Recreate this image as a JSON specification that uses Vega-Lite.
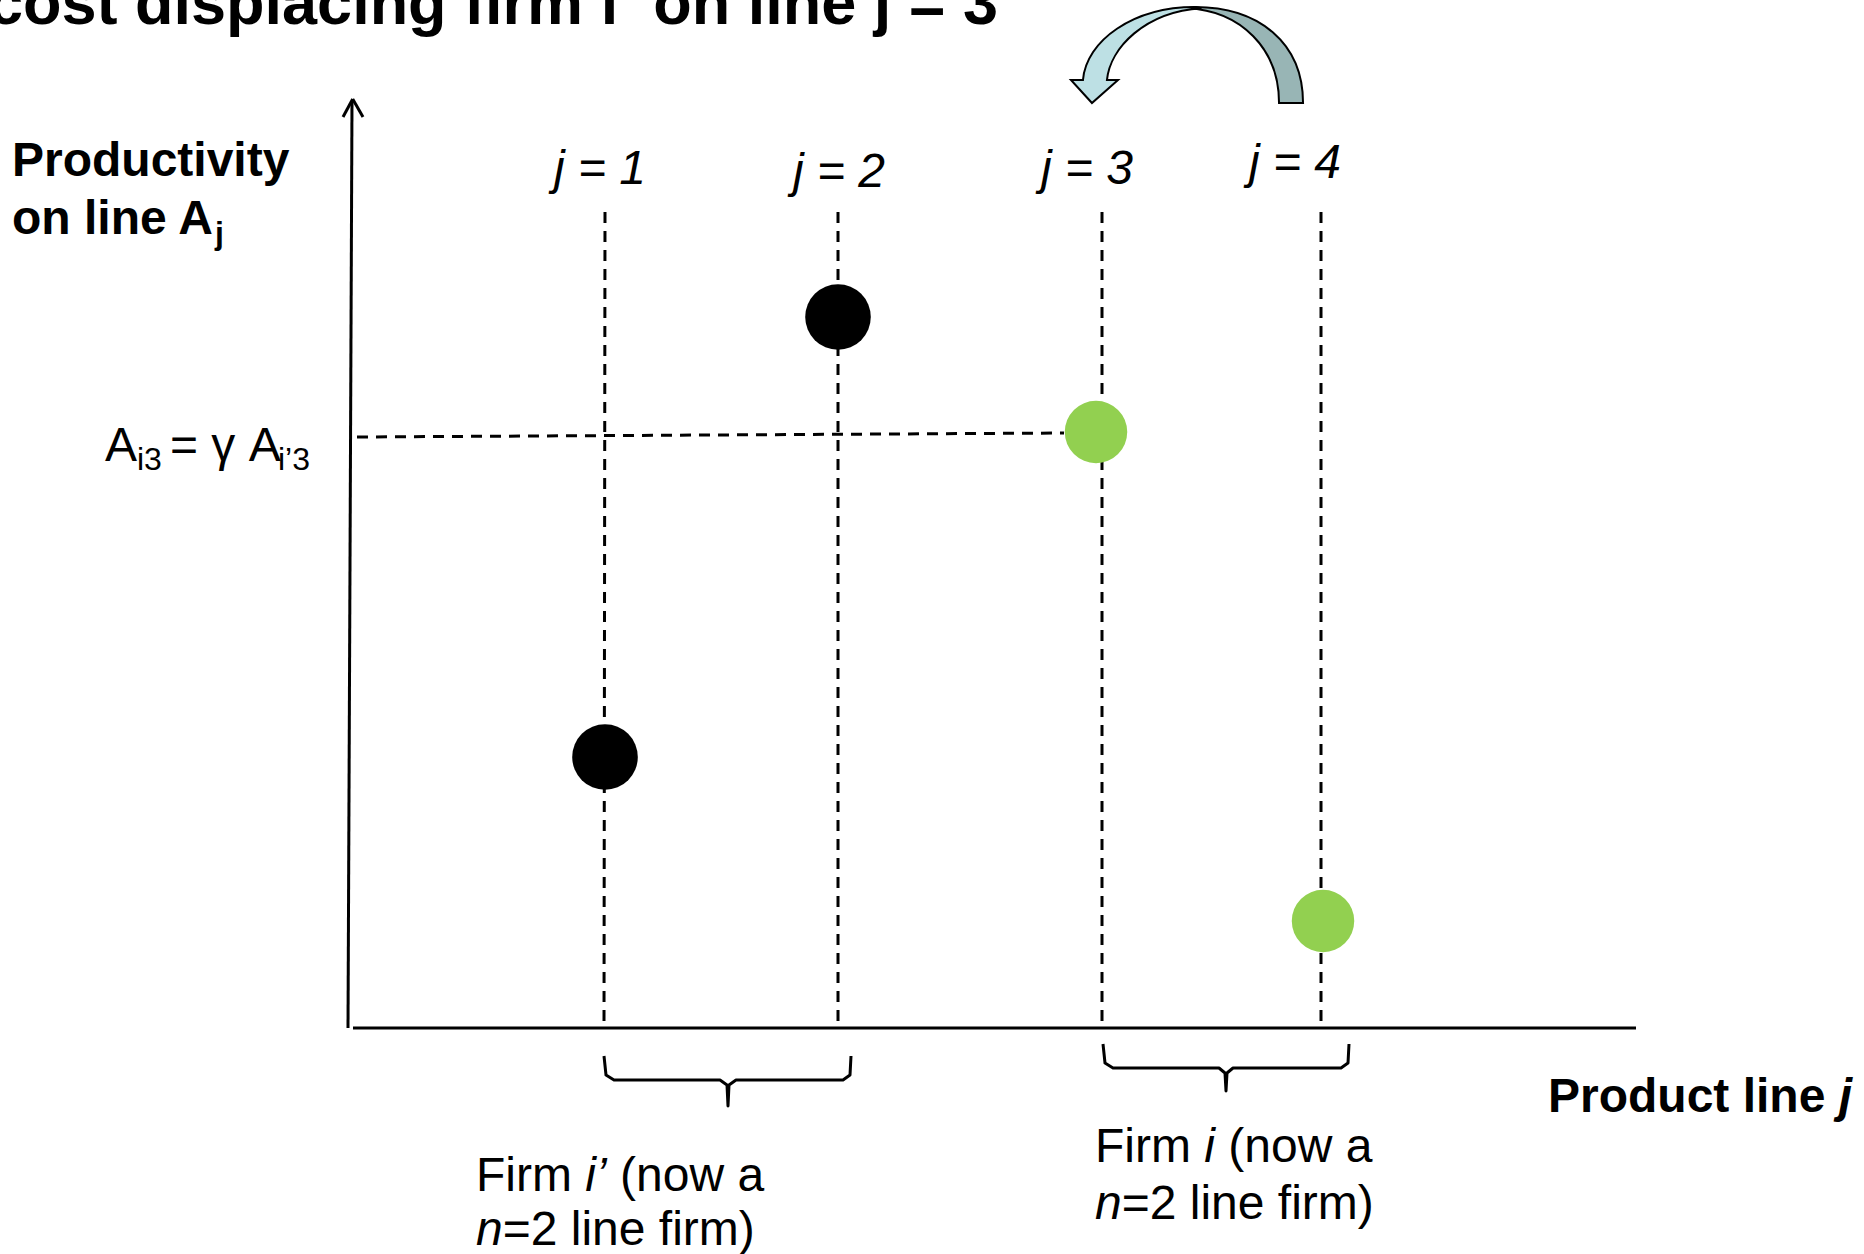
{
  "$schema": "https://vega.github.io/schema/vega-lite/v6.json",
  "width": 1864,
  "height": 1254,
  "autosize": {"type": "none"},
  "padding": 0,
  "background": "white",
  "config": {"view": {"stroke": null}},
  "datasets": {
    "solid": [
      {"part": "y axis", "x": -2, "y": 0, "x2": 2, "y2": 927},
      {"part": "arrow left", "x": 2.7, "y": 929, "x2": -7, "y2": 911},
      {"part": "arrow right", "x": 2.7, "y": 929, "x2": 13, "y2": 911},
      {"part": "x axis", "x": 3, "y": 0, "x2": 1286, "y2": 0}
    ],
    "dashed": [
      {"line": "j=1", "x": 255, "y": 816, "x2": 254, "y2": 0},
      {"line": "j=2", "x": 488, "y": 816, "x2": 488, "y2": 0},
      {"line": "j=3", "x": 752, "y": 816, "x2": 752, "y2": 0},
      {"line": "j=4", "x": 971, "y": 816, "x2": 971, "y2": 0},
      {"line": "A_i3", "x": 7, "y": 591, "x2": 714, "y2": 595}
    ],
    "points": [
      {"line": 1, "firm": "i'", "x": 255, "y": 271},
      {"line": 2, "firm": "i'", "x": 488, "y": 711},
      {"line": 3, "firm": "i", "x": 746, "y": 596},
      {"line": 4, "firm": "i", "x": 973, "y": 107}
    ],
    "braces": [
      {"brace": "i'", "order": 1, "x": 254, "y": -28},
      {"brace": "i'", "order": 2, "x": 256, "y": -47},
      {"brace": "i'", "order": 3, "x": 264, "y": -52},
      {"brace": "i'", "order": 4, "x": 370, "y": -52},
      {"brace": "i'", "order": 5, "x": 377, "y": -57},
      {"brace": "i'", "order": 6, "x": 378, "y": -78},
      {"brace": "i'", "order": 7, "x": 379, "y": -57},
      {"brace": "i'", "order": 8, "x": 386, "y": -52},
      {"brace": "i'", "order": 9, "x": 493, "y": -52},
      {"brace": "i'", "order": 10, "x": 500, "y": -47},
      {"brace": "i'", "order": 11, "x": 501, "y": -28},
      {"brace": "i", "order": 1, "x": 753, "y": -16},
      {"brace": "i", "order": 2, "x": 755, "y": -35},
      {"brace": "i", "order": 3, "x": 763, "y": -40},
      {"brace": "i", "order": 4, "x": 869, "y": -40},
      {"brace": "i", "order": 5, "x": 875, "y": -45},
      {"brace": "i", "order": 6, "x": 876, "y": -63},
      {"brace": "i", "order": 7, "x": 877, "y": -45},
      {"brace": "i", "order": 8, "x": 883, "y": -40},
      {"brace": "i", "order": 9, "x": 991, "y": -40},
      {"brace": "i", "order": 10, "x": 998, "y": -35},
      {"brace": "i", "order": 11, "x": 999, "y": -16}
    ],
    "arrow": [{"x": 837, "y": 973}],
    "regular": [
      {"label": "A", "x": -245, "y": 567},
      {"label": "= γ A", "x": -180, "y": 567},
      {"label": "Firm", "x": 126, "y": -163},
      {"label": "(now a", "x": 270, "y": -163},
      {"label": "=2 line firm)", "x": 152.7, "y": -217},
      {"label": "Firm", "x": 745, "y": -134},
      {"label": "(now a", "x": 878.3, "y": -134},
      {"label": "=2 line firm)", "x": 771.7, "y": -191}
    ],
    "italic": [
      {"label": "i’", "x": 235.3, "y": -163},
      {"label": "i", "x": 854.3, "y": -134},
      {"label": "n", "x": 126, "y": -217},
      {"label": "n", "x": 745, "y": -191}
    ],
    "jlabels": [
      {"label": "j = 1", "x": 250, "y": 844},
      {"label": "j = 2", "x": 489, "y": 841},
      {"label": "j = 3", "x": 737, "y": 844},
      {"label": "j = 4", "x": 945, "y": 850}
    ],
    "subs": [
      {"label": "i3", "x": -213, "y": 558},
      {"label": "i’3", "x": -72, "y": 558}
    ],
    "bold": [
      {"label": "Productivity", "x": -338, "y": 852},
      {"label": "on line A", "x": -338, "y": 794},
      {"label": "Product line", "x": 1198, "y": -84}
    ],
    "bolditalic": [
      {"label": "j", "x": 1488.7, "y": -84}
    ],
    "boldsub": [
      {"label": "j", "x": -135, "y": 784}
    ],
    "title": [
      {"label": "cost displacing firm", "style": "normal", "x": -362, "y": 1004},
      {"label": "i’", "style": "italic", "x": 250.7, "y": 1004},
      {"label": "on line", "style": "normal", "x": 303.2, "y": 1004},
      {"label": "j", "style": "italic", "x": 523.8, "y": 1004},
      {"label": "= 3", "style": "normal", "x": 558.8, "y": 1004}
    ]
  },
  "encoding": {
    "x": {"field": "x", "type": "quantitative", "scale": {"domain": [-350, 1514], "nice": false, "zero": false}, "axis": null},
    "y": {"field": "y", "type": "quantitative", "scale": {"domain": [-226, 1028], "nice": false, "zero": false}, "axis": null}
  },
  "layer": [
    {
      "data": {"name": "solid"},
      "mark": {"type": "rule", "color": "black", "strokeWidth": 3},
      "encoding": {"x2": {"field": "x2"}, "y2": {"field": "y2"}}
    },
    {
      "data": {"name": "dashed"},
      "mark": {"type": "rule", "color": "black", "strokeWidth": 3, "strokeDash": [11, 8]},
      "encoding": {"x2": {"field": "x2"}, "y2": {"field": "y2"}}
    },
    {
      "data": {"name": "points"},
      "mark": {"type": "point", "shape": "circle", "filled": true, "opacity": 1, "strokeWidth": 0},
      "encoding": {
        "color": {"field": "firm", "type": "nominal", "scale": {"domain": ["i'", "i"], "range": ["#000000", "#92D050"]}, "legend": null},
        "size": {"field": "firm", "type": "nominal", "scale": {"domain": ["i'", "i"], "range": [4300, 3900]}, "legend": null}
      }
    },
    {
      "data": {"name": "braces"},
      "mark": {"type": "line", "color": "black", "strokeWidth": 3, "strokeJoin": "round"},
      "encoding": {"detail": {"field": "brace"}, "order": {"field": "order", "type": "quantitative"}}
    },
    {
      "data": {"name": "arrow"},
      "mark": {"type": "point", "filled": true, "opacity": 1, "size": 57600, "fill": "#98B5B5", "stroke": "black", "strokeWidth": 2,
        "shape": "M0.067,-0.4C0.6,-0.4,0.967,-0.1,0.967,0.4L0.767,0.4C0.767,-0.05,0.45,-0.37,0.0,-0.39Z"}
    },
    {
      "data": {"name": "arrow"},
      "mark": {"type": "point", "filled": true, "opacity": 1, "size": 57600, "fill": "#BDE0E4", "stroke": "black", "strokeWidth": 2,
        "shape": "M0.067,-0.4C-0.45,-0.4,-0.84,-0.12,-0.867,0.208L-0.967,0.208L-0.792,0.4L-0.575,0.208L-0.667,0.208C-0.64,-0.06,-0.35,-0.36,0.12,-0.39Z"}
    },
    {
      "data": {"name": "regular"},
      "mark": {"type": "text", "align": "left", "baseline": "alphabetic", "font": "Liberation Sans", "fontSize": 48, "color": "black"},
      "encoding": {"text": {"field": "label"}}
    },
    {
      "data": {"name": "italic"},
      "mark": {"type": "text", "align": "left", "baseline": "alphabetic", "font": "Liberation Sans", "fontSize": 48, "fontStyle": "italic", "color": "black"},
      "encoding": {"text": {"field": "label"}}
    },
    {
      "data": {"name": "jlabels"},
      "mark": {"type": "text", "align": "center", "baseline": "alphabetic", "font": "Liberation Sans", "fontSize": 48, "fontStyle": "italic", "color": "black"},
      "encoding": {"text": {"field": "label"}}
    },
    {
      "data": {"name": "subs"},
      "mark": {"type": "text", "align": "left", "baseline": "alphabetic", "font": "Liberation Sans", "fontSize": 32, "color": "black"},
      "encoding": {"text": {"field": "label"}}
    },
    {
      "data": {"name": "bold"},
      "mark": {"type": "text", "align": "left", "baseline": "alphabetic", "font": "Liberation Sans", "fontSize": 48, "fontWeight": "bold", "color": "black"},
      "encoding": {"text": {"field": "label"}}
    },
    {
      "data": {"name": "bolditalic"},
      "mark": {"type": "text", "align": "left", "baseline": "alphabetic", "font": "Liberation Sans", "fontSize": 48, "fontWeight": "bold", "fontStyle": "italic", "color": "black"},
      "encoding": {"text": {"field": "label"}}
    },
    {
      "data": {"name": "boldsub"},
      "mark": {"type": "text", "align": "left", "baseline": "alphabetic", "font": "Liberation Sans", "fontSize": 32, "fontWeight": "bold", "color": "black"},
      "encoding": {"text": {"field": "label"}}
    },
    {
      "data": {"name": "title"},
      "mark": {"type": "text", "align": "left", "baseline": "alphabetic", "font": "Liberation Sans", "fontSize": 63, "fontWeight": "bold", "color": "black"},
      "encoding": {"text": {"field": "label"}, "fontStyle": {"field": "style", "type": "nominal", "scale": null}}
    }
  ]
}
